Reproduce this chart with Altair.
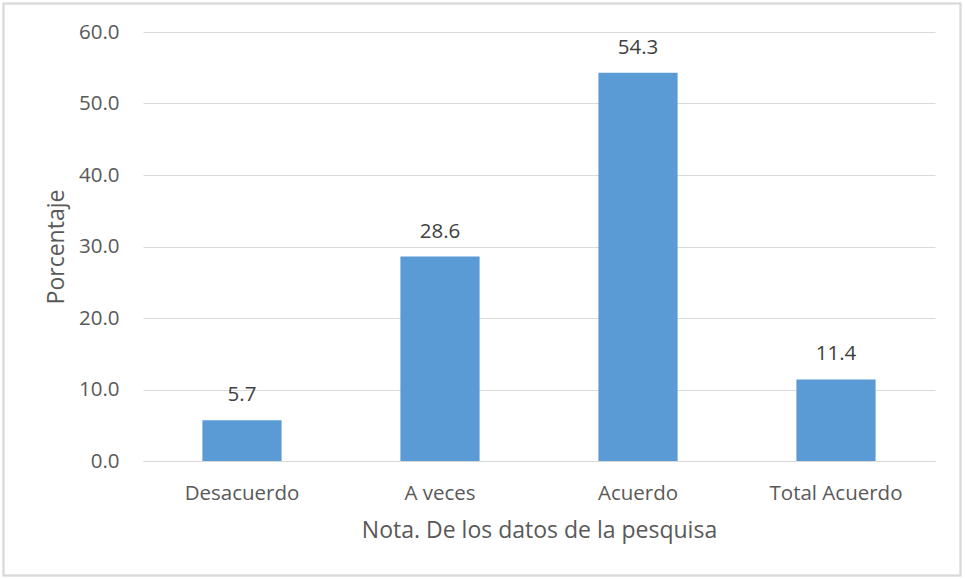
import altair as alt
import pandas as pd

# Survey responses (percent)
categories = ["Desacuerdo", "A veces", "Acuerdo", "Total Acuerdo"]
values = [5.7, 28.6, 54.3, 11.4]

df = pd.DataFrame({"categoria": categories, "porcentaje": values})

FONT = "Open Sans"
BAR = "#5B9BD5"
GRID = "#D9D9D9"
TXT = "#595959"
LABEL_SIZE = 20.5
TITLE_SIZE = 23

x_enc = alt.X(
    "categoria:N",
    sort=categories,
    scale=alt.Scale(paddingInner=0.6, paddingOuter=0.3),
    axis=alt.Axis(
        title="Nota. De los datos de la pesquisa",
        labelAngle=0,
        labelFontSize=LABEL_SIZE,
        labelColor=TXT,
        labelFont=FONT,
        labelPadding=22,
        ticks=False,
        domain=True,
        domainColor=GRID,
        domainWidth=1,
        titleFont=FONT,
        titleFontSize=TITLE_SIZE,
        titleFontWeight="normal",
        titleColor=TXT,
        titlePadding=16,
    ),
)

y_enc = alt.Y(
    "porcentaje:Q",
    scale=alt.Scale(domain=[0, 60], nice=False),
    axis=alt.Axis(
        title="Porcentaje",
        values=[0, 10, 20, 30, 40, 50, 60],
        format=".1f",
        labelFontSize=LABEL_SIZE,
        labelColor=TXT,
        labelFont=FONT,
        labelPadding=24,
        ticks=False,
        domain=False,
        grid=True,
        gridColor=GRID,
        gridWidth=1,
        titleFont=FONT,
        titleFontSize=TITLE_SIZE,
        titleFontWeight="normal",
        titleColor=TXT,
        titlePadding=10,
    ),
)

bars = alt.Chart(df).mark_bar(color=BAR).encode(x=x_enc, y=y_enc)

labels = alt.Chart(df).mark_text(
    font=FONT, fontSize=LABEL_SIZE, color="#404040", baseline="bottom", dy=-15
).encode(
    x=alt.X("categoria:N", sort=categories),
    y="porcentaje:Q",
    text=alt.Text("porcentaje:Q", format=".1f"),
)

# Outer frame around the whole figure
frame = alt.Chart(df).mark_rect(
    fill=None, stroke=GRID, strokeWidth=1.5, clip=False
).encode(
    x=alt.value(-139.5),
    x2=alt.value(817.5),
    y=alt.value(-28.5),
    y2=alt.value(543.5),
)

chart = (
    alt.layer(bars, labels, frame)
    .properties(
        width=792,
        height=429,
        autosize=alt.AutoSizeParams(type="none"),
        padding={"left": 143, "top": 32, "right": 30, "bottom": 118},
        background="white",
    )
    .configure_view(stroke=None)
)

chart.save("out.html", embed_options={"renderer": "svg", "actions": False})
